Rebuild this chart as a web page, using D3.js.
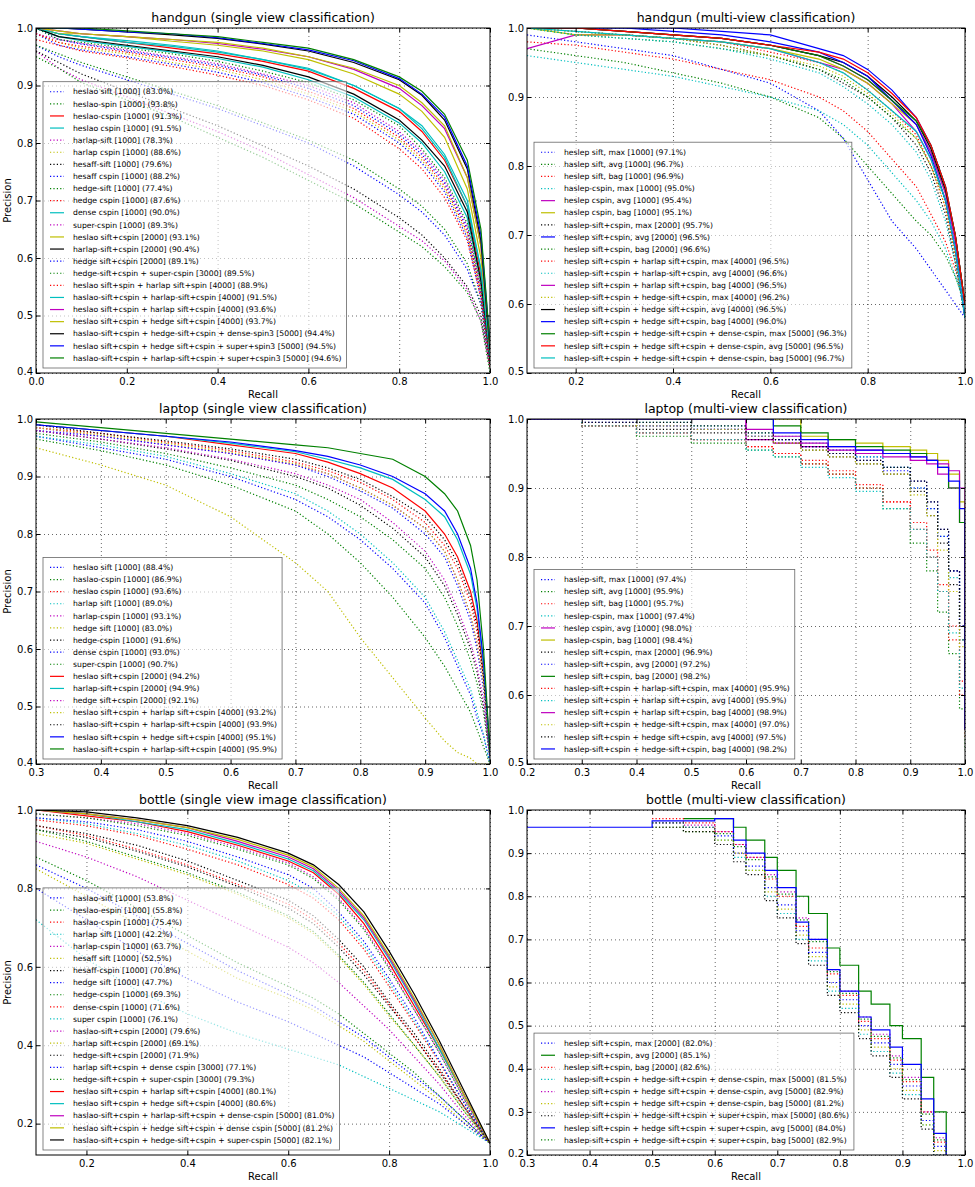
<!DOCTYPE html>
<html>
<head>
<meta charset="utf-8">
<script src="https://cdn.jsdelivr.net/npm/d3@7"></script>
<style>
body{margin:0;background:#fff}
svg{font-family:"DejaVu Sans",sans-serif}
</style>
</head>
<body>
<svg id="fig" width="975" height="1187"></svg>
<script>
// matplotlib classic colour cycle b g r c m y k
const COLORS = ['#0000ff','#008000','#ff0000','#00bfbf','#bf00bf','#bfbf00','#000000'];

// ---------- handgun single view ----------
const hgSingleTitle = 'handgun (single view classification)';
const hgSingleLabels = [
  'heslao sift [1000] (83.0%)','heslao-spin [1000] (93.8%)','heslao-cspin [1000] (91.3%)','heslao cspin [1000] (91.5%)',
  'harlap-sift [1000] (78.3%)','harlap cspin [1000] (88.6%)','hesaff-sift [1000] (79.6%)','hesaff cspin [1000] (88.2%)',
  'hedge-sift [1000] (77.4%)','hedge cspin [1000] (87.6%)','dense cspin [1000] (90.0%)','super-cspin [1000] (89.3%)',
  'heslao sift+cspin [2000] (93.1%)','harlap-sift+cspin [2000] (90.4%)','hedge sift+cspin [2000] (89.1%)',
  'hedge-sift+cspin + super-cspin [3000] (89.5%)','heslao sift+spin + harlap sift+spin [4000] (88.9%)',
  'haslao-sift+cspin + harlap-sift+cspin [4000] (91.5%)','heslao sift+cspin + harlap sift+cspin [4000] (93.6%)',
  'heslao sift+cspin + hedge sift+cspin [4000] (93.7%)','haslao-sift+cspin + hedge-sift+cspin + dense-spin3 [5000] (94.4%)',
  'heslao sift+cspin + hedge sift+cspin + super+spin3 [5000] (94.5%)','haslao-sift+cspin + harlap-sift+cspin + super+cspin3 [5000] (94.6%)'
];
const hgSingleStyles = [':',':','-','-',':',':',':',':',':',':','-',':','-','-',':',':',':','-','-','-','-','-','-'];
const hgSingleRecall = [0,0.05,0.1,0.2,0.3,0.4,0.5,0.6,0.7,0.8,0.85,0.9,0.95,0.98,1.0];
const hgSinglePrec = [
  [.97,.95,.935,.91,.885,.86,.83,.80,.76,.71,.68,.64,.58,.52,.41],
  [.97,.955,.94,.915,.89,.865,.835,.805,.77,.72,.69,.65,.59,.52,.41],
  [1,.99,.985,.975,.965,.955,.942,.925,.895,.855,.82,.77,.69,.57,.43],
  [1,.99,.985,.975,.968,.958,.945,.928,.90,.86,.825,.775,.69,.58,.43],
  [.96,.93,.91,.88,.85,.82,.785,.745,.705,.655,.63,.595,.545,.49,.41],
  [.99,.975,.965,.955,.94,.928,.91,.885,.855,.805,.77,.72,.64,.54,.42],
  [.96,.94,.92,.89,.86,.83,.795,.76,.72,.67,.64,.60,.55,.50,.41],
  [.99,.97,.962,.95,.937,.923,.905,.88,.85,.80,.765,.715,.635,.53,.42],
  [.95,.93,.905,.875,.845,.81,.775,.735,.695,.645,.62,.585,.54,.49,.40],
  [.98,.97,.96,.948,.933,.918,.90,.875,.843,.79,.755,.705,.63,.53,.41],
  [1,.985,.978,.968,.958,.947,.932,.91,.88,.835,.80,.75,.67,.56,.42],
  [.99,.98,.973,.962,.95,.938,.92,.90,.87,.82,.785,.735,.655,.55,.42],
  [1,.99,.99,.985,.977,.97,.96,.945,.92,.885,.855,.81,.72,.60,.44],
  [1,.985,.98,.97,.96,.95,.935,.915,.885,.84,.805,.76,.68,.56,.42],
  [1,.98,.972,.96,.948,.935,.918,.895,.865,.815,.78,.73,.65,.54,.42],
  [1,.98,.975,.965,.955,.942,.925,.905,.875,.83,.79,.74,.66,.55,.42],
  [.99,.975,.968,.958,.945,.932,.915,.89,.86,.81,.775,.725,.645,.54,.42],
  [1,.99,.985,.978,.97,.96,.945,.93,.90,.86,.83,.78,.70,.58,.43],
  [1,.995,.99,.985,.98,.973,.963,.95,.928,.895,.865,.825,.74,.62,.44],
  [1,.995,.99,.985,.98,.975,.965,.95,.93,.90,.87,.83,.74,.62,.44],
  [1,1,.998,.993,.988,.982,.972,.96,.94,.91,.883,.84,.755,.63,.44],
  [1,1,.998,.993,.99,.983,.973,.962,.943,.912,.885,.845,.76,.64,.45],
  [1,1,1,.995,.99,.985,.975,.965,.945,.915,.89,.85,.77,.65,.45]
];

// ---------- handgun multi view ----------
const hgMultiTitle = 'handgun (multi-view classification)';
const hgMultiLabels = [
  'heslep sift, max [1000] (97.1%)','haslep sift, avg [1000] (96.7%)','heslep sift, bag [1000] (96.9%)',
  'haslep-cspin, max [1000] (95.0%)','heslep cspin, avg [1000] (95.4%)','haslep cspin, bag [1000] (95.1%)',
  'haslep-sift+cspin, max [2000] (95.7%)','heslep sift+cspin, avg [2000] (96.5%)','heslep sift+cspin, bag [2000] (96.6%)',
  'heslep sift+cspin + harlap sift+cspin, max [4000] (96.5%)','haslep-sift+cspin + harlap-sift+cspin, avg [4000] (96.6%)',
  'heslep sift+cspin + harlap sift+cspin, bag [4000] (96.5%)','haslep-sift+cspin + hedge-sift+cspin, max [4000] (96.2%)',
  'heslep sift+cspin + hedge sift+cspin, avg [4000] (96.5%)','heslep sift+cspin + hedge sift+cspin, bag [4000] (96.0%)',
  'haslep-sift+cspin + hedge-sift+cspin + dense-cspin, max [5000] (96.3%)',
  'heslep sift+cspin + hedge sift+cspin + dense-cspin, avg [5000] (96.5%)',
  'haslep-sift+cspin + hedge-sift+cspin + dense-cspin, bag [5000] (96.7%)'
];
const hgMultiStyles = [':',':',':',':','-','-',':','-',':',':',':','-',':','-','-','-','-','-'];
const hgMultiRecall = [0.1,0.2,0.3,0.4,0.5,0.6,0.7,0.75,0.8,0.85,0.9,0.93,0.96,0.98,1.0];
const hgMultiPrec = [
  [.99,.98,.97,.96,.94,.92,.88,.84,.78,.72,.68,.65,.62,.60,.58],
  [.97,.96,.95,.935,.92,.90,.87,.84,.80,.76,.72,.70,.67,.64,.60],
  [.98,.975,.965,.955,.94,.925,.90,.88,.85,.81,.77,.73,.69,.65,.60],
  [.96,.95,.94,.93,.915,.90,.88,.86,.83,.79,.75,.72,.68,.64,.60],
  [.97,.99,.99,.985,.98,.97,.95,.94,.92,.89,.85,.81,.75,.68,.58],
  [1,.99,.99,.985,.98,.97,.955,.94,.92,.89,.86,.82,.76,.70,.60],
  [1,.995,.99,.985,.975,.96,.94,.92,.90,.87,.83,.79,.73,.66,.58],
  [1,1,1,1,.995,.99,.97,.96,.94,.91,.87,.83,.77,.70,.60],
  [1,.99,.985,.98,.97,.96,.94,.925,.90,.87,.84,.80,.75,.68,.60],
  [1,.995,.99,.985,.98,.965,.95,.935,.91,.88,.845,.80,.74,.67,.58],
  [1,.99,.985,.98,.97,.955,.935,.915,.89,.86,.82,.78,.72,.66,.58],
  [1,1,.995,.99,.985,.975,.96,.945,.925,.895,.86,.82,.76,.69,.60],
  [1,.995,.99,.985,.975,.96,.945,.93,.905,.875,.84,.80,.74,.67,.58],
  [1,1,.995,.99,.985,.975,.96,.95,.93,.90,.865,.825,.765,.70,.60],
  [1,1,1,.995,.99,.98,.965,.95,.93,.895,.86,.815,.75,.68,.58],
  [1,1,.995,.99,.985,.975,.96,.945,.925,.895,.865,.83,.77,.70,.60],
  [1,1,.995,.99,.985,.975,.965,.955,.935,.905,.87,.83,.77,.70,.60],
  [1,.995,.99,.985,.98,.97,.95,.935,.91,.88,.85,.81,.75,.68,.58]
];

// ---------- laptop single view ----------
const lpSingleTitle = 'laptop (single view classification)';
const lpSingleLabels = [
  'heslao sift [1000] (88.4%)','haslao-cspin [1000] (86.9%)','heslao cspin [1000] (93.6%)','harlap sift [1000] (89.0%)',
  'harlap-cspin [1000] (93.1%)','hedge sift [1000] (83.0%)','hedge-cspin [1000] (91.6%)','dense cspin [1000] (93.0%)',
  'super-cspin [1000] (90.7%)','heslao sift+cspin [2000] (94.2%)','harlap-sift+cspin [2000] (94.9%)',
  'hedge sift+cspin [2000] (92.1%)','heslao sift+cspin + harlap sift+cspin [4000] (93.2%)',
  'haslao-sift+cspin + harlap-sift+cspin [4000] (93.9%)','heslao sift+cspin + hedge sift+cspin [4000] (95.1%)',
  'haslao-sift+cspin + harlap-sift+cspin [4000] (95.9%)'
];
const lpSingleStyles = [':',':',':',':',':',':',':',':',':','-','-',':',':',':','-','-'];
const lpSingleRecall = [0.3,0.4,0.5,0.6,0.7,0.75,0.8,0.85,0.9,0.93,0.95,0.97,0.98,0.99,1.0];
const lpSinglePrec = [
  [.97,.95,.93,.90,.86,.83,.79,.74,.68,.62,.57,.52,.48,.45,.40],
  [.965,.945,.92,.885,.84,.80,.75,.69,.62,.57,.53,.49,.46,.43,.40],
  [.985,.975,.96,.945,.925,.91,.89,.86,.82,.78,.74,.68,.63,.55,.42],
  [.97,.955,.935,.905,.87,.84,.80,.75,.69,.63,.58,.53,.49,.45,.40],
  [.985,.97,.955,.94,.92,.905,.88,.85,.81,.77,.72,.66,.61,.54,.42],
  [.95,.92,.885,.83,.75,.70,.62,.55,.48,.44,.42,.41,.40,.40,.40],
  [.98,.965,.948,.928,.90,.88,.85,.81,.76,.71,.66,.60,.56,.50,.41],
  [.98,.97,.955,.94,.92,.90,.875,.845,.80,.76,.71,.65,.60,.53,.41],
  [.975,.96,.94,.915,.885,.86,.83,.79,.74,.69,.64,.58,.54,.49,.41],
  [.99,.98,.97,.955,.94,.925,.905,.88,.84,.80,.76,.70,.65,.56,.42],
  [.99,.98,.97,.958,.943,.93,.915,.895,.86,.83,.79,.73,.67,.57,.42],
  [.98,.965,.95,.93,.905,.885,.86,.82,.77,.72,.67,.61,.57,.51,.41],
  [.985,.972,.958,.942,.922,.905,.88,.85,.81,.77,.72,.66,.61,.54,.42],
  [.99,.975,.962,.948,.93,.915,.895,.865,.83,.79,.75,.69,.64,.55,.42],
  [.99,.98,.97,.96,.945,.935,.92,.90,.87,.84,.80,.74,.68,.58,.42],
  [.995,.985,.975,.965,.955,.95,.94,.93,.90,.87,.84,.78,.72,.60,.42]
];

// ---------- laptop multi view ----------
const lpMultiTitle = 'laptop (multi-view classification)';
const lpMultiLabels = [
  'haslep-sift, max [1000] (97.4%)','heslep sift, avg [1000] (95.9%)','heslep sift, bag [1000] (95.7%)',
  'heslep-cspin, max [1000] (97.4%)','heslep cspin, avg [1000] (98.0%)','haslep-cspin, bag [1000] (98.4%)',
  'heslep sift+cspin, max [2000] (96.9%)','haslep-sift+cspin, avg [2000] (97.2%)','heslep sift+cspin, bag [2000] (98.2%)',
  'haslep-sift+cspin + harlap-sift+cspin, max [4000] (95.9%)','heslep sift+cspin + harlap sift+cspin, avg [4000] (95.9%)',
  'heslep sift+cspin + harlap sift+cspin, bag [4000] (98.9%)','haslep-sift+cspin + hedge-sift+cspin, max [4000] (97.0%)',
  'heslep sift+cspin + hedge sift+cspin, avg [4000] (97.5%)','haslep-sift+cspin + hedge-sift+cspin, bag [4000] (98.2%)'
];
const lpMultiStyles = [':',':',':',':','-','-',':',':','-',':',':','-',':',':','-'];
const lpMultiRecall = [0.2,0.3,0.4,0.5,0.6,0.65,0.7,0.75,0.8,0.85,0.9,0.93,0.95,0.97,0.99,1.0];
const lpMultiPrec = [
  [1,.995,.99,.985,.975,.97,.96,.955,.945,.93,.91,.88,.84,.78,.70,.62],
  [1,.99,.975,.965,.955,.945,.935,.92,.90,.87,.82,.78,.72,.66,.58,.52],
  [1,.99,.98,.97,.96,.95,.94,.925,.905,.88,.84,.80,.75,.68,.60,.54],
  [1,1,.995,.99,.98,.975,.965,.955,.945,.93,.90,.87,.83,.77,.68,.60],
  [1,1,1,1,.97,.965,.96,.955,.95,.945,.94,.935,.92,.90,.85,.55],
  [1,1,1,1,1,1,.975,.97,.965,.96,.955,.95,.94,.92,.88,.55],
  [1,.995,.985,.98,.97,.965,.955,.945,.935,.92,.895,.86,.82,.76,.68,.60],
  [1,1,.99,.985,.975,.97,.96,.95,.94,.925,.90,.87,.83,.78,.70,.62],
  [1,1,1,1,1,.99,.98,.97,.96,.955,.95,.94,.93,.90,.85,.55],
  [1,.99,.98,.97,.96,.95,.935,.92,.90,.88,.85,.81,.76,.70,.62,.55],
  [1,.99,.98,.97,.955,.945,.93,.915,.895,.87,.84,.80,.75,.69,.61,.55],
  [1,1,1,1,.985,.975,.965,.96,.955,.95,.945,.94,.935,.925,.90,.55],
  [1,1,.99,.985,.975,.965,.955,.945,.935,.92,.89,.86,.81,.75,.67,.60],
  [1,1,.995,.99,.98,.97,.96,.95,.94,.93,.91,.88,.84,.78,.70,.62],
  [1,1,1,1,1,.98,.97,.96,.955,.95,.945,.94,.93,.91,.87,.55]
];

// ---------- bottle single view ----------
const btSingleTitle = 'bottle (single view image classification)';
const btSingleLabels = [
  'haslao-sift [1000] (53.8%)','heslao-espin [1000] (55.8%)','haslao-cspin [1000] (75.4%)','harlap sift [1000] (42.2%)',
  'harlap-cspin [1000] (63.7%)','hesaff sift [1000] (52.5%)','hesaff-cspin [1000] (70.8%)','hedge sift [1000] (47.7%)',
  'hedge-cspin [1000] (69.3%)','dense-cspin [1000] (71.6%)','super cspin [1000] (76.1%)','haslao-sift+cspin [2000] (79.6%)',
  'harlap sift+cspin [2000] (69.1%)','hedge-sift+cspin [2000] (71.9%)','harlap sift+cspin + dense cspin [3000] (77.1%)',
  'hedge-sift+cspin + super-cspin [3000] (79.3%)','heslao sift+cspin + harlap sift+cspin [4000] (80.1%)',
  'heslao sift+cspin + hedge sift+cspin [4000] (80.6%)','haslao-sift+cspin + harlap-sift+cspin + dense-cspin [5000] (81.0%)',
  'heslao sift+cspin + hedge sift+cspin + dense cspin [5000] (81.2%)','haslao-sift+cspin + hedge-sift+cspin + super-cspin [5000] (82.1%)'
];
const btSingleStyles = [':',':',':',':',':',':',':',':',':',':',':',':',':',':',':',':','-','-','-','-','-'];
const btSingleRecall = [0.1,0.2,0.3,0.4,0.5,0.6,0.65,0.7,0.75,0.8,0.85,0.9,0.95,1.0];
const btSinglePrec = [
  [.86,.80,.73,.66,.59,.53,.50,.46,.42,.37,.32,.27,.21,.15],
  [.88,.82,.75,.68,.61,.55,.52,.48,.43,.38,.33,.27,.21,.15],
  [.975,.96,.935,.90,.86,.81,.775,.72,.645,.55,.455,.355,.25,.15],
  [.72,.62,.54,.48,.43,.39,.37,.35,.32,.29,.26,.23,.19,.15],
  [.92,.88,.83,.77,.71,.65,.61,.56,.50,.44,.37,.30,.22,.15],
  [.85,.78,.71,.64,.57,.52,.49,.45,.41,.36,.31,.26,.20,.15],
  [.95,.93,.895,.855,.805,.75,.71,.65,.58,.50,.42,.33,.24,.15],
  [.80,.72,.64,.57,.51,.46,.43,.40,.37,.33,.29,.25,.20,.15],
  [.95,.92,.88,.84,.79,.73,.69,.63,.56,.48,.40,.32,.23,.15],
  [.96,.935,.90,.86,.81,.76,.72,.66,.59,.505,.42,.335,.24,.15],
  [.98,.965,.94,.91,.87,.82,.785,.73,.655,.56,.46,.36,.25,.15],
  [.99,.98,.965,.94,.905,.865,.83,.775,.70,.60,.49,.38,.26,.15],
  [.94,.915,.875,.835,.785,.725,.685,.625,.555,.475,.40,.32,.23,.15],
  [.96,.94,.91,.87,.82,.77,.73,.67,.60,.51,.43,.34,.24,.15],
  [.98,.97,.95,.92,.88,.835,.80,.74,.665,.57,.47,.36,.25,.15],
  [.99,.98,.96,.935,.90,.86,.825,.77,.695,.595,.49,.38,.26,.15],
  [1,.985,.97,.945,.91,.87,.84,.785,.71,.61,.50,.39,.27,.15],
  [1,.99,.97,.95,.915,.875,.845,.79,.72,.62,.51,.39,.27,.15],
  [1,.99,.975,.955,.92,.88,.85,.795,.725,.625,.515,.40,.27,.15],
  [1,.99,.975,.955,.925,.885,.855,.80,.73,.63,.52,.40,.27,.15],
  [1,.995,.98,.96,.93,.89,.86,.81,.74,.64,.53,.41,.28,.15]
];

// ---------- bottle multi view ----------
const btMultiTitle = 'bottle (multi-view classification)';
const btMultiLabels = [
  'heslep sift+cspin, max [2000] (82.0%)','haslep-sift+cspin, avg [2000] (85.1%)','heslep sift+cspin, bag [2000] (82.6%)',
  'haslep-sift+cspin + hedge-sift+cspin + dense-cspin, max [5000] (81.5%)',
  'heslep sift+cspin + hedge sift+cspin + dense-cspin, avg [5000] (82.9%)',
  'heslep sift+cspin + hedge sift+cspin + dense-cspin, bag [5000] (81.2%)',
  'haslep-sift+cspin + hedge-sift+cspin + super+cspin, max [5000] (80.6%)',
  'heslep sift+cspin + hedge sift+cspin + super+cspin, avg [5000] (84.0%)',
  'haslep-sift+cspin + hedge-sift+cspin + super+cspin, bag [5000] (82.9%)'
];
const btMultiStyles = [':','-',':',':',':',':',':','-',':'];
const btMultiRecall = [0.3,0.5,0.55,0.6,0.63,0.65,0.68,0.7,0.73,0.75,0.78,0.8,0.83,0.85,0.88,0.9,0.93,0.95,0.97];
const btMultiPrec = [
  [null,.97,.96,.94,.90,.87,.82,.78,.72,.67,.60,.56,.50,.46,.41,.36,.28,.22,.18],
  [null,null,.98,.98,.96,.93,.89,.86,.80,.76,.68,.64,.58,.55,.50,.47,.38,.30,.20],
  [null,.98,.97,.95,.92,.89,.84,.80,.73,.68,.62,.57,.51,.47,.42,.37,.30,.23,.18],
  [null,.96,.95,.93,.89,.86,.80,.76,.70,.65,.58,.54,.48,.44,.39,.34,.27,.20,.17],
  [null,.97,.965,.95,.92,.89,.85,.81,.75,.70,.63,.58,.52,.48,.43,.38,.30,.24,.19],
  [null,.96,.95,.93,.90,.86,.81,.77,.71,.66,.59,.55,.49,.45,.40,.35,.27,.21,.17],
  [null,.96,.95,.92,.88,.85,.79,.75,.69,.64,.57,.53,.47,.43,.38,.33,.26,.20,.17],
  [.96,.975,.975,.98,.93,.90,.86,.82,.74,.70,.63,.58,.52,.49,.45,.41,.33,.25,.19],
  [null,.97,.96,.945,.915,.885,.845,.805,.745,.695,.625,.575,.515,.475,.425,.375,.295,.235,.185]
];

// ---------- layout ----------
const PLOT_H = 345;
const COL_X = [36, 527], COL_W = [454, 438];
const ROW_Y = [28, 419, 810];
const fmt = d3.format('.1f');
const svg = d3.select('#fig');

const panels = [
  {id:1, col:0, row:0, title:hgSingleTitle, labels:hgSingleLabels, styles:hgSingleStyles, recall:hgSingleRecall, prec:hgSinglePrec,
   xd:[0,1], yd:[0.4,1], xt:[0,0.2,0.4,0.6,0.8,1.0], yt:[0.4,0.5,0.6,0.7,0.8,0.9,1.0], step:false},
  {id:2, col:1, row:0, title:hgMultiTitle, labels:hgMultiLabels, styles:hgMultiStyles, recall:hgMultiRecall, prec:hgMultiPrec,
   xd:[0.1,1], yd:[0.5,1], xt:[0.2,0.4,0.6,0.8,1.0], yt:[0.5,0.6,0.7,0.8,0.9,1.0], step:false},
  {id:3, col:0, row:1, title:lpSingleTitle, labels:lpSingleLabels, styles:lpSingleStyles, recall:lpSingleRecall, prec:lpSinglePrec,
   xd:[0.3,1], yd:[0.4,1], xt:[0.3,0.4,0.5,0.6,0.7,0.8,0.9,1.0], yt:[0.4,0.5,0.6,0.7,0.8,0.9,1.0], step:false},
  {id:4, col:1, row:1, title:lpMultiTitle, labels:lpMultiLabels, styles:lpMultiStyles, recall:lpMultiRecall, prec:lpMultiPrec,
   xd:[0.2,1], yd:[0.5,1], xt:[0.2,0.3,0.4,0.5,0.6,0.7,0.8,0.9,1.0], yt:[0.5,0.6,0.7,0.8,0.9,1.0], step:true},
  {id:5, col:0, row:2, title:btSingleTitle, labels:btSingleLabels, styles:btSingleStyles, recall:btSingleRecall, prec:btSinglePrec,
   xd:[0.1,1], yd:[0.12,1], xt:[0.2,0.4,0.6,0.8,1.0], yt:[0.2,0.4,0.6,0.8,1.0], step:false},
  {id:6, col:1, row:2, title:btMultiTitle, labels:btMultiLabels, styles:btMultiStyles, recall:btMultiRecall, prec:btMultiPrec,
   xd:[0.3,1], yd:[0.2,1], xt:[0.3,0.4,0.5,0.6,0.7,0.8,0.9,1.0], yt:[0.2,0.3,0.4,0.5,0.6,0.7,0.8,0.9,1.0], step:true}
];

function drawPanel(p) {
  const W = COL_W[p.col];
  const g = svg.append('g').attr('transform', `translate(${COL_X[p.col]},${ROW_Y[p.row]})`);
  const x = d3.scaleLinear().domain(p.xd).range([0, W]);
  const y = d3.scaleLinear().domain(p.yd).range([PLOT_H, 0]);

  g.append('clipPath').attr('id', 'clip' + p.id)
    .append('rect').attr('width', W).attr('height', PLOT_H);

  // dotted grid
  g.append('g').attr('transform', `translate(0,${PLOT_H})`)
    .call(d3.axisBottom(x).tickValues(p.xt).tickSize(-PLOT_H).tickFormat(''))
    .call(a => a.select('.domain').remove());
  g.append('g')
    .call(d3.axisLeft(y).tickValues(p.yt).tickSize(-W).tickFormat(''))
    .call(a => a.select('.domain').remove());
  g.selectAll('.tick line').attr('stroke', '#000').attr('stroke-width', 0.6).attr('stroke-dasharray', '1,3');

  // curves
  const line = d3.line().x(d => x(d[0])).y(d => y(d[1]))
    .curve(p.step ? d3.curveStepAfter : d3.curveLinear);
  p.prec.forEach((vals, i) => {
    const pts = p.recall.map((r, j) => [r, vals[j]]).filter(d => d[1] != null);
    g.append('path')
      .attr('clip-path', `url(#clip${p.id})`)
      .attr('d', line(pts))
      .attr('fill', 'none')
      .attr('stroke', COLORS[i % 7])
      .attr('stroke-width', 1.2)
      .attr('stroke-dasharray', p.styles[i] === '-' ? null : '1.2,2.2');
  });

  // legend, lower left
  const n = p.labels.length, rowH = 12.1;
  const lh = n * rowH + 8;
  const lg = g.append('g').attr('transform', `translate(7,${PLOT_H - 5 - lh})`);
  const box = lg.append('rect').attr('height', lh)
    .attr('fill', '#fff').attr('fill-opacity', 0.6).attr('stroke', '#666').attr('stroke-width', 0.8);
  p.labels.forEach((lab, i) => {
    const cy = 4 + i * rowH + rowH / 2;
    lg.append('line').attr('x1', 7).attr('x2', 21).attr('y1', cy).attr('y2', cy)
      .attr('stroke', COLORS[i % 7]).attr('stroke-width', 1.2)
      .attr('stroke-dasharray', p.styles[i] === '-' ? null : '1.2,2.2');
  });
  const texts = lg.selectAll('text.lab').data(p.labels).join('text')
    .attr('class', 'lab')
    .attr('x', 30).attr('y', (d, i) => 4 + i * rowH + rowH / 2 + 2.7)
    .attr('font-size', 7.7).attr('fill', '#000').text(d => d);
  const tw = d3.max(texts.nodes(), t => t.getComputedTextLength());
  box.attr('width', 30 + tw + 5);

  // frame
  g.append('rect').attr('width', W).attr('height', PLOT_H)
    .attr('fill', 'none').attr('stroke', '#000').attr('stroke-width', 1);

  // axes with inward ticks
  const ax = [
    g.append('g').attr('transform', `translate(0,${PLOT_H})`)
      .call(d3.axisBottom(x).tickValues(p.xt).tickFormat(fmt).tickSizeInner(-4).tickSizeOuter(0).tickPadding(5)),
    g.append('g')
      .call(d3.axisLeft(y).tickValues(p.yt).tickFormat(fmt).tickSizeInner(-4).tickSizeOuter(0).tickPadding(3)),
    g.append('g')
      .call(d3.axisTop(x).tickValues(p.xt).tickFormat('').tickSizeInner(-4).tickSizeOuter(0)),
    g.append('g').attr('transform', `translate(${W},0)`)
      .call(d3.axisRight(y).tickValues(p.yt).tickFormat('').tickSizeInner(-4).tickSizeOuter(0))
  ];
  ax.forEach(a => {
    a.select('.domain').remove();
    a.selectAll('text').attr('font-size', 10).attr('font-family', '"DejaVu Sans",sans-serif').attr('fill', '#000');
    a.selectAll('line').attr('stroke', '#000');
  });
  // lift the lowest y label a little so it clears the x labels at the corner
  ax[1].selectAll('.tick').filter(d => d === p.yd[0]).select('text').attr('dy', '0.1em');

  // titles and axis names
  g.append('text').attr('x', W / 2).attr('y', -6).attr('text-anchor', 'middle')
    .attr('font-size', 12.5).text(p.title);
  g.append('text').attr('x', W / 2).attr('y', PLOT_H + 25).attr('text-anchor', 'middle')
    .attr('font-size', 10).text('Recall');
  if (p.col === 0) {
    g.append('text').attr('transform', `translate(-25,${PLOT_H / 2}) rotate(-90)`)
      .attr('text-anchor', 'middle').attr('font-size', 10).text('Precision');
  }
}

panels.forEach(drawPanel);
</script>
</body>
</html>
